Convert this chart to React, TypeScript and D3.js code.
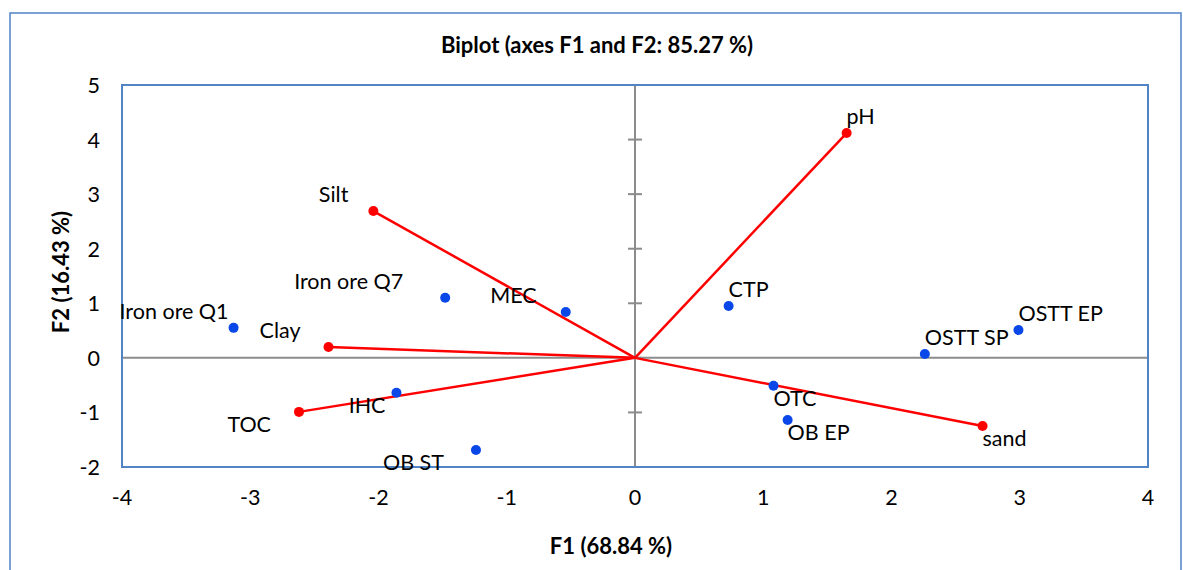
import React from "react";
import * as d3 from "d3";

// observations (blue)
const obsNames = ["Iron ore Q1", "Iron ore Q7", "MEC", "IHC", "OB ST", "CTP", "OSTT SP", "OSTT EP", "OTC", "OB EP"];
const obsF1 = [-3.13, -1.48, -0.54, -1.86, -1.24, 0.73, 2.26, 2.99, 1.08, 1.19];
const obsF2 = [0.55, 1.1, 0.84, -0.64, -1.69, 0.95, 0.07, 0.51, -0.51, -1.14];

// variables (red vectors)
const varNames = ["pH", "Silt", "Clay", "TOC", "sand"];
const varF1 = [1.65, -2.04, -2.39, -2.62, 2.71];
const varF2 = [4.12, 2.69, 0.2, -0.99, -1.25];

const xTicks = [-4, -3, -2, -1, 0, 1, 2, 3, 4];
const yTicks = [-2, -1, 0, 1, 2, 3, 4, 5];

// small manual nudges for left-side labels, like the hand-placed ones in the original
const leftGap: Record<string, number> = {
  "Iron ore Q1": 5,
  "Iron ore Q7": 42,
  MEC: 29,
  IHC: 11,
  "OB ST": 32,
  Silt: 25,
  Clay: 28,
  TOC: 28,
};

const W = 1183;
const H = 570;
const font = "Lato, 'Open Sans', sans-serif";
const fs = 21.5;

const App = () => {
  const margin = { top: 85, right: 35, bottom: 103, left: 122 };
  const x = d3.scaleLinear().domain([-4, 4]).range([margin.left, W - margin.right]);
  const y = d3.scaleLinear().domain([-2, 5]).range([H - margin.bottom, margin.top]);

  const label = (name: string, f1: number, f2: number) => {
    const px = x(f1);
    const py = y(f2);
    const left = f1 < 0;
    const above = f2 >= 0;
    return (
      <text
        key={"l" + name}
        x={left ? px - (leftGap[name] ?? 28) : px}
        y={above ? py - 17 : py + 12}
        textAnchor={left ? "end" : "start"}
        dominantBaseline="central"
        fontSize={fs}
        fill="#000"
      >
        {name}
      </text>
    );
  };

  return (
    <svg width={W} height={H} style={{ position: "absolute", left: 0, top: 0, fontFamily: font }}>
      <rect x={0} y={0} width={W} height={H} fill="#fff" />
      <rect x={10} y={13} width={1171} height={600} fill="none" stroke="#4f81c6" strokeWidth={1.5} />

      <text x={597} y={44} textAnchor="middle" dominantBaseline="central" fontSize={22} fontWeight="bold">
        Biplot (axes F1 and F2: 85.27 %)
      </text>

      {/* axis lines through the origin */}
      <line x1={x(-4)} x2={x(4)} y1={y(0)} y2={y(0)} stroke="#8c8c8c" strokeWidth={2} />
      <line x1={x(0)} x2={x(0)} y1={y(-2)} y2={y(5)} stroke="#8c8c8c" strokeWidth={2} />
      {yTicks.map((t) => (
        <line key={"yt" + t} x1={x(0) - 7} x2={x(0) + 7} y1={y(t)} y2={y(t)} stroke="#8c8c8c" strokeWidth={2} />
      ))}

      {/* plot frame */}
      <rect
        x={x(-4)}
        y={y(5)}
        width={x(4) - x(-4)}
        height={y(-2) - y(5)}
        fill="none"
        stroke="#5283c4"
        strokeWidth={2}
      />

      {xTicks.map((t) => (
        <text key={"xl" + t} x={x(t)} y={497} textAnchor="middle" dominantBaseline="central" fontSize={fs}>
          {t}
        </text>
      ))}
      {yTicks.map((t) => (
        <text key={"yl" + t} x={100} y={y(t)} textAnchor="end" dominantBaseline="central" fontSize={fs}>
          {t}
        </text>
      ))}

      <text x={611} y={545} textAnchor="middle" dominantBaseline="central" fontSize={22} fontWeight="bold">
        F1 (68.84 %)
      </text>
      <text
        transform={`translate(60, 272) rotate(-90)`}
        textAnchor="middle"
        dominantBaseline="central"
        fontSize={22}
        fontWeight="bold"
      >
        F2 (16.43 %)
      </text>

      {/* variable vectors */}
      {varNames.map((n, i) => (
        <g key={"v" + n}>
          <line x1={x(0)} y1={y(0)} x2={x(varF1[i])} y2={y(varF2[i])} stroke="#ff0000" strokeWidth={2.5} />
          <circle cx={x(varF1[i])} cy={y(varF2[i])} r={5} fill="#ff0000" />
        </g>
      ))}

      {/* observations */}
      {obsNames.map((n, i) => (
        <circle key={"o" + n} cx={x(obsF1[i])} cy={y(obsF2[i])} r={5} fill="#0a47e8" />
      ))}

      {varNames.map((n, i) => label(n, varF1[i], varF2[i]))}
      {obsNames.map((n, i) => label(n, obsF1[i], obsF2[i]))}
    </svg>
  );
};

export default App;
